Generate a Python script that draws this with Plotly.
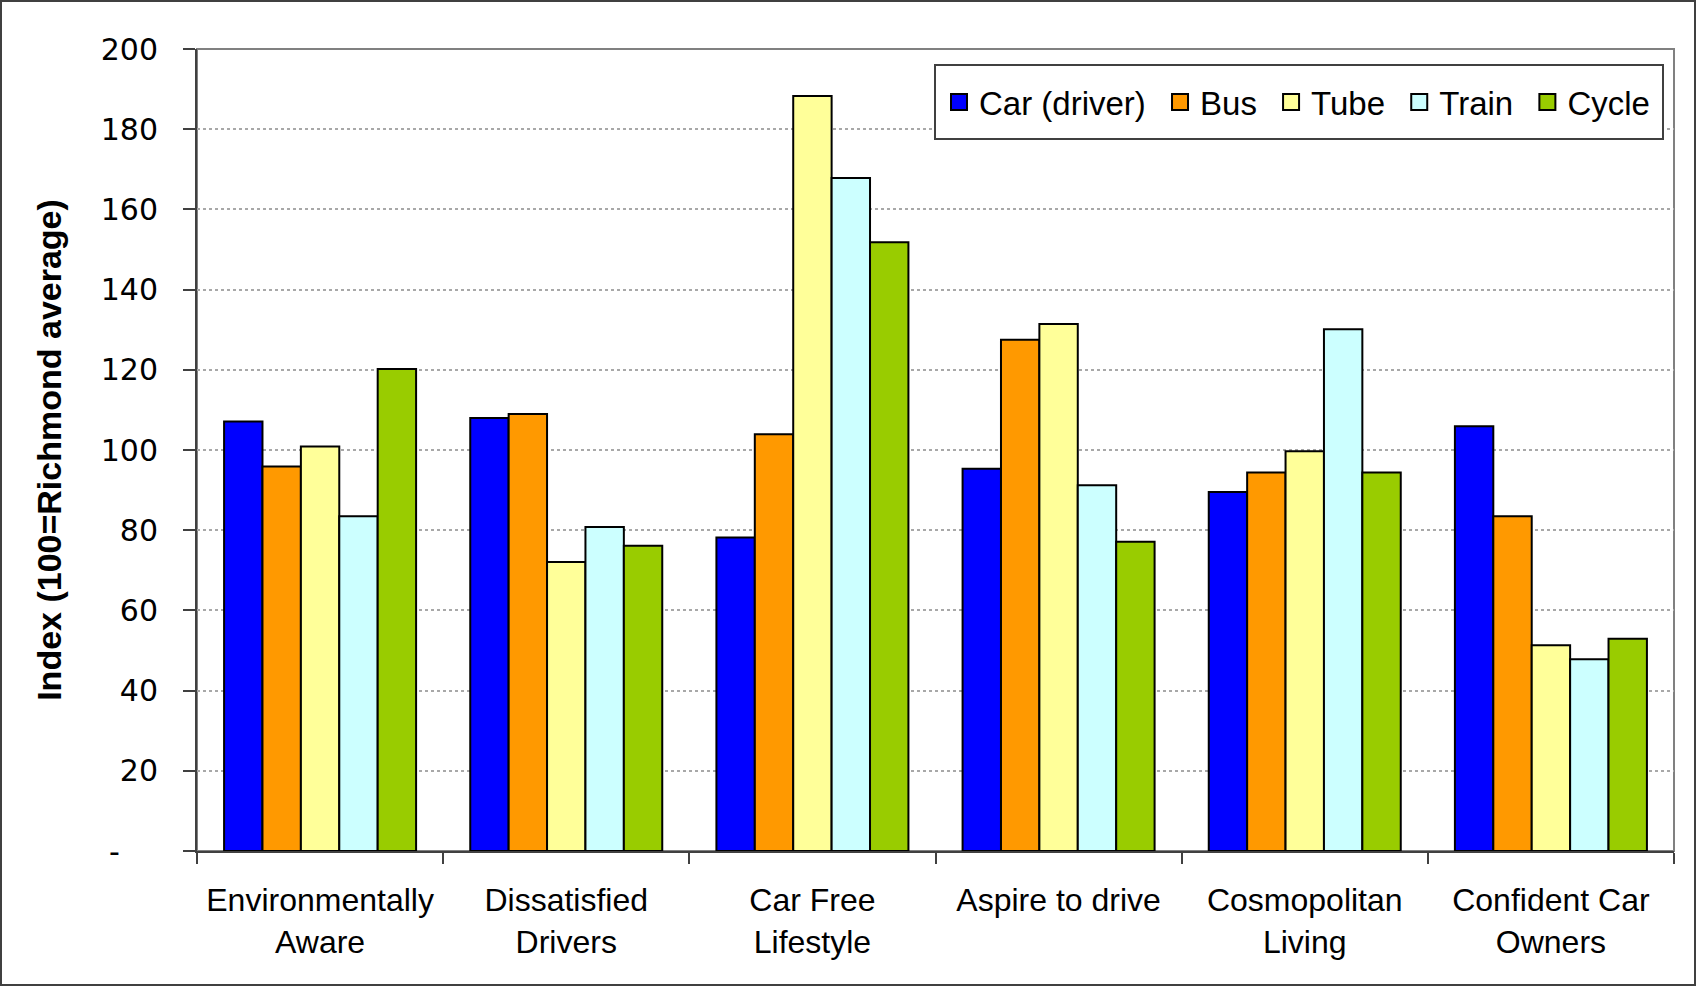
import plotly.graph_objects as go

categories = ["Environmentally<br>Aware", "Dissatisfied<br>Drivers", "Car Free<br>Lifestyle",
              "Aspire to drive", "Cosmopolitan<br>Living", "Confident Car<br>Owners"]
series_names = ["Car (driver)", "Bus", "Tube", "Train", "Cycle"]
car = [107.1, 108.0, 78.2, 95.3, 89.5, 105.9]
bus = [95.9, 109.0, 103.9, 127.5, 94.4, 83.5]
tube = [100.9, 72.1, 188.3, 131.4, 99.7, 51.3]
train = [83.5, 80.8, 167.8, 91.2, 130.1, 47.8]
cycle = [120.2, 76.1, 151.8, 77.1, 94.4, 52.9]
colors = ["#0000FF", "#FF9900", "#FFFF99", "#CCFFFF", "#99CC00"]
y_tickvals = [0, 20, 40, 60, 80, 100, 120, 140, 160, 180, 200]
y_ticktext = ["-\u00a0\u00a0\u00a0\u00a0", "20", "40", "60", "80", "100", "120", "140", "160", "180", "200"]

FONT = "Arial, Liberation Sans, sans-serif"
TICKFONT = "Verdana, DejaVu Sans, sans-serif"
W, H = 1696, 986
ML, MR, MT, MB = 197, 22, 49, 135
pw = W - ML - MR
ph = H - MT - MB

def px_x(x):
    return (x - ML) / pw

def px_y(y):
    return (H - MB - y) / ph

fig = go.Figure()
for name, vals, col in zip(series_names, [car, bus, tube, train, cycle], colors):
    fig.add_trace(go.Bar(name=name, x=categories, y=vals, marker_color=col,
                         marker_line_color="#000000", marker_line_width=2,
                         showlegend=False, legendgroup=name))
# legend entries (larger square swatches)
for i, (name, col) in enumerate(zip(series_names, colors)):
    label = name if i == len(series_names) - 1 else name + "\u00a0"
    fig.add_trace(go.Scatter(name=label, x=[None], y=[None], mode="markers",
                             marker=dict(symbol="square", size=16, color=col,
                                         line=dict(color="#000000", width=2)),
                             legendgroup=name, showlegend=True))

fig.update_layout(
    width=W, height=H,
    margin=dict(l=ML, r=MR, t=MT, b=MB, pad=0),
    paper_bgcolor="white", plot_bgcolor="white",
    barmode="group", bargap=0.22, bargroupgap=0,
    font=dict(family=FONT, size=32, color="#000000"),
    legend=dict(orientation="h", x=px_x(939), xanchor="left", y=px_y(102), yanchor="middle",
                bgcolor="rgba(0,0,0,0)", borderwidth=0,
                font=dict(family=FONT, size=33)),
    xaxis=dict(showline=True, linecolor="#404040", linewidth=2,
               ticks="outside", tickson="boundaries", ticklen=11, tickcolor="#404040",
               tickwidth=1.5, ticklabelstandoff=20,
               tickfont=dict(family=FONT, size=32), showgrid=False),
    yaxis=dict(range=[0, 200], tickvals=y_tickvals, ticktext=y_ticktext,
               showline=True, linecolor="#404040", linewidth=2,
               ticks="outside", ticklen=12, tickcolor="#404040", tickwidth=1.5,
               ticklabelstandoff=19,
               tickfont=dict(family=TICKFONT, size=30),
               showgrid=True, gridcolor="#A8A8A8", griddash="dot", gridwidth=1.5,
               zeroline=False,
               title=dict(text="<b>Index (100=Richmond average)</b>",
                          font=dict(family=FONT, size=34), standoff=29)),
    shapes=[
        dict(type="rect", xref="paper", yref="paper", x0=0, x1=1, y0=0, y1=1,
             line=dict(color="#808080", width=2), layer="below"),
        dict(type="rect", xref="paper", yref="paper",
             x0=px_x(935), x1=px_x(1663), y0=px_y(139), y1=px_y(65),
             line=dict(color="#404040", width=2), fillcolor="white", layer="above"),
        dict(type="rect", xref="paper", yref="paper",
             x0=px_x(1), x1=px_x(W - 1), y0=px_y(H - 1), y1=px_y(1),
             line=dict(color="#404040", width=2), fillcolor="rgba(0,0,0,0)"),
    ],
)
fig.write_html("out.html", config={"displayModeBar": False},
               post_script="document.body.style.margin='0';document.body.style.padding='0';")
